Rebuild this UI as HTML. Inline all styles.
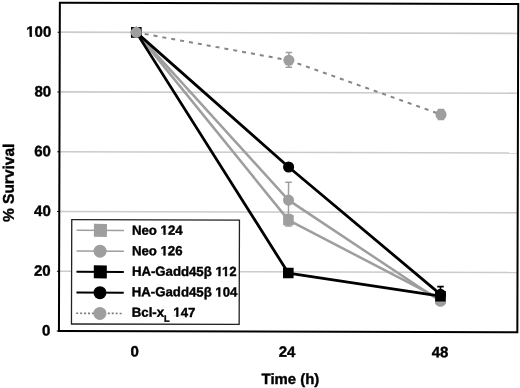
<!DOCTYPE html>
<html><head><meta charset="utf-8"><style>
html,body{margin:0;padding:0;background:#fff;}
body{width:520px;height:388px;overflow:hidden;font-family:"Liberation Sans",sans-serif;}
svg{display:block;filter:grayscale(1);}
</style></head><body>
<svg width="520" height="388" viewBox="0 0 520 388">
<g><rect x="-10" y="-10" width="540" height="408" fill="#fff"/><g transform="rotate(0.16 288 167)">
<line x1="60" y1="271.84" x2="517.8" y2="271.84" stroke="#cbcbcb" stroke-width="1.6"/>
<line x1="60" y1="212.08" x2="517.8" y2="212.08" stroke="#cbcbcb" stroke-width="1.6"/>
<line x1="60" y1="152.32" x2="517.8" y2="152.32" stroke="#cbcbcb" stroke-width="1.6"/>
<line x1="60" y1="92.56" x2="517.8" y2="92.56" stroke="#cbcbcb" stroke-width="1.6"/>
<line x1="60" y1="32.80" x2="517.8" y2="32.80" stroke="#cbcbcb" stroke-width="1.6"/>
<text x="50.9" y="336.20" text-anchor="end" font-size="15" font-family="Liberation Sans, sans-serif" font-weight="bold" stroke="#000" stroke-width="0.4">0</text>
<text x="50.9" y="276.44" text-anchor="end" font-size="15" font-family="Liberation Sans, sans-serif" font-weight="bold" stroke="#000" stroke-width="0.4">20</text>
<text x="50.9" y="216.68" text-anchor="end" font-size="15" font-family="Liberation Sans, sans-serif" font-weight="bold" stroke="#000" stroke-width="0.4">40</text>
<text x="50.9" y="156.92" text-anchor="end" font-size="15" font-family="Liberation Sans, sans-serif" font-weight="bold" stroke="#000" stroke-width="0.4">60</text>
<text x="50.9" y="97.16" text-anchor="end" font-size="15" font-family="Liberation Sans, sans-serif" font-weight="bold" stroke="#000" stroke-width="0.4">80</text>
<text x="50.9" y="37.40" text-anchor="end" font-size="15" font-family="Liberation Sans, sans-serif" font-weight="bold" stroke="#000" stroke-width="0.4">100</text>
<text x="135.30" y="356.9" text-anchor="middle" font-size="15" font-family="Liberation Sans, sans-serif" font-weight="bold" stroke="#000" stroke-width="0.4">0</text>
<text x="287.50" y="356.9" text-anchor="middle" font-size="15" font-family="Liberation Sans, sans-serif" font-weight="bold" stroke="#000" stroke-width="0.4">24</text>
<text x="440.60" y="356.9" text-anchor="middle" font-size="15" font-family="Liberation Sans, sans-serif" font-weight="bold" stroke="#000" stroke-width="0.4">48</text>
<text x="291.0" y="384.0" text-anchor="middle" font-size="14.9" font-family="Liberation Sans, sans-serif" font-weight="bold" stroke="#000" stroke-width="0.4">Time (h)</text>
<text transform="translate(13.9,183.6) rotate(-90)" x="0" y="0" text-anchor="middle" font-size="15.5" font-family="Liberation Sans, sans-serif" font-weight="bold" stroke="#000" stroke-width="0.4">% Survival</text>
<line x1="288.60" y1="182.20" x2="288.60" y2="218.06" stroke="#9e9e9e" stroke-width="1.5"/><line x1="285.35" y1="182.20" x2="291.85" y2="182.20" stroke="#9e9e9e" stroke-width="1.5"/><line x1="285.35" y1="218.06" x2="291.85" y2="218.06" stroke="#9e9e9e" stroke-width="1.5"/>
<line x1="288.60" y1="214.40" x2="288.60" y2="225.90" stroke="#9e9e9e" stroke-width="1.5"/><line x1="285.35" y1="214.40" x2="291.85" y2="214.40" stroke="#9e9e9e" stroke-width="1.5"/><line x1="285.35" y1="225.90" x2="291.85" y2="225.90" stroke="#9e9e9e" stroke-width="1.5"/>
<line x1="288.60" y1="52.52" x2="288.60" y2="67.16" stroke="#9e9e9e" stroke-width="1.5"/><line x1="285.35" y1="52.52" x2="291.85" y2="52.52" stroke="#9e9e9e" stroke-width="1.5"/><line x1="285.35" y1="67.16" x2="291.85" y2="67.16" stroke="#9e9e9e" stroke-width="1.5"/>
<line x1="440.85" y1="108.97" x2="440.85" y2="119.17" stroke="#9e9e9e" stroke-width="1.5"/><line x1="437.60" y1="108.97" x2="444.10" y2="108.97" stroke="#9e9e9e" stroke-width="1.5"/><line x1="437.60" y1="119.17" x2="444.10" y2="119.17" stroke="#9e9e9e" stroke-width="1.5"/>
<line x1="440.85" y1="286.18" x2="440.85" y2="301.72" stroke="#000" stroke-width="1.6"/><line x1="437.60" y1="286.18" x2="444.10" y2="286.18" stroke="#000" stroke-width="1.6"/><line x1="437.60" y1="301.72" x2="444.10" y2="301.72" stroke="#000" stroke-width="1.6"/>
<polyline points="135.90,32.80 288.60,220.15 440.85,298.73" fill="none" stroke="#9e9e9e" stroke-width="2.5" stroke-linejoin="round"/>
<rect x="130.60" y="27.50" width="10.6" height="10.6" rx="1" fill="#9e9e9e"/>
<rect x="283.30" y="214.85" width="10.6" height="10.6" rx="1" fill="#9e9e9e"/>
<rect x="435.55" y="293.43" width="10.6" height="10.6" rx="1" fill="#9e9e9e"/>
<polyline points="135.90,32.80 288.60,200.13 440.85,300.82" fill="none" stroke="#9e9e9e" stroke-width="2.5" stroke-linejoin="round"/>
<circle cx="135.90" cy="32.80" r="5.55" fill="#9e9e9e"/>
<circle cx="288.60" cy="200.13" r="5.55" fill="#9e9e9e"/>
<circle cx="440.85" cy="300.82" r="5.55" fill="#9e9e9e"/>
<polyline points="135.90,32.80 288.60,273.04 440.85,295.74" fill="none" stroke="#000" stroke-width="2.8" stroke-linejoin="round"/>
<rect x="130.60" y="27.50" width="10.6" height="10.6" rx="0" fill="#000"/>
<rect x="283.30" y="267.74" width="10.6" height="10.6" rx="0" fill="#000"/>
<rect x="435.55" y="290.44" width="10.6" height="10.6" rx="0" fill="#000"/>
<polyline points="135.90,32.80 288.60,166.96 440.85,293.95" fill="none" stroke="#000" stroke-width="2.8" stroke-linejoin="round"/>
<circle cx="135.90" cy="32.80" r="5.55" fill="#000"/>
<circle cx="288.60" cy="166.96" r="5.55" fill="#000"/>
<circle cx="440.85" cy="293.95" r="5.55" fill="#000"/>
<line x1="135.90" y1="32.80" x2="288.60" y2="60.29" stroke="#858585" stroke-width="2" stroke-dasharray="4 5" stroke-dashoffset="0.43"/>
<line x1="288.60" y1="60.29" x2="440.85" y2="114.07" stroke="#858585" stroke-width="2" stroke-dasharray="4 5" stroke-dashoffset="8.9"/>
<circle cx="135.90" cy="32.80" r="5.55" fill="#9e9e9e"/>
<circle cx="288.60" cy="60.29" r="5.55" fill="#9e9e9e"/>
<circle cx="440.85" cy="114.07" r="5.55" fill="#9e9e9e"/>
<rect x="59.4" y="3.35" width="458.4" height="328.25" fill="none" stroke="#000" stroke-width="2"/>
<line x1="57.2" y1="331.60" x2="59.4" y2="331.60" stroke="#000" stroke-width="1"/>
<line x1="57.2" y1="271.84" x2="59.4" y2="271.84" stroke="#000" stroke-width="1"/>
<line x1="57.2" y1="212.08" x2="59.4" y2="212.08" stroke="#000" stroke-width="1"/>
<line x1="57.2" y1="152.32" x2="59.4" y2="152.32" stroke="#000" stroke-width="1"/>
<line x1="57.2" y1="92.56" x2="59.4" y2="92.56" stroke="#000" stroke-width="1"/>
<line x1="57.2" y1="32.80" x2="59.4" y2="32.80" stroke="#000" stroke-width="1"/>
<rect x="71.9" y="220.3" width="167.70" height="104.30" fill="#fff" stroke="#222" stroke-width="1.3"/>
<line x1="76.8" y1="230.90" x2="124.1" y2="230.90" stroke="#9e9e9e" stroke-width="1.6"/>
<rect x="94.10" y="224.40" width="13" height="13" rx="0" fill="#9e9e9e"/>
<text x="132.2" y="235.20" font-size="13.2" font-family="Liberation Sans, sans-serif" font-weight="bold" stroke="#000" stroke-width="0.4">Neo 124</text>
<line x1="76.8" y1="251.65" x2="124.1" y2="251.65" stroke="#9e9e9e" stroke-width="1.6"/>
<circle cx="100.30" cy="251.65" r="6.5" fill="#9e9e9e"/>
<text x="132.2" y="255.70" font-size="13.2" font-family="Liberation Sans, sans-serif" font-weight="bold" stroke="#000" stroke-width="0.4">Neo 126</text>
<line x1="76.8" y1="272.40" x2="124.1" y2="272.40" stroke="#000" stroke-width="2.0"/>
<rect x="94.10" y="265.90" width="13" height="13" rx="0" fill="#000"/>
<text x="132.2" y="276.20" font-size="13.2" font-family="Liberation Sans, sans-serif" font-weight="bold" stroke="#000" stroke-width="0.4">HA-Gadd45β 112</text>
<line x1="76.8" y1="293.15" x2="124.1" y2="293.15" stroke="#000" stroke-width="2.0"/>
<circle cx="100.30" cy="293.15" r="6.5" fill="#000"/>
<text x="132.2" y="296.70" font-size="13.2" font-family="Liberation Sans, sans-serif" font-weight="bold" stroke="#000" stroke-width="0.4">HA-Gadd45β 104</text>
<line x1="76.6" y1="313.90" x2="124.1" y2="313.90" stroke="#7a7a7a" stroke-width="1.6" stroke-dasharray="2 1.95"/>
<circle cx="100.30" cy="313.90" r="6.5" fill="#9e9e9e"/>
<text x="132.2" y="317.20" font-size="13.2" font-family="Liberation Sans, sans-serif" font-weight="bold" stroke="#000" stroke-width="0.4">Bcl-x<tspan font-size="9.2" dy="4.8">L</tspan><tspan dy="-4.8"> 147</tspan></text>
<rect x="25.96" y="35.52" width="3.16" height="2.78" fill="#fff"/>
<rect x="31.68" y="35.52" width="2.72" height="2.78" fill="#fff"/>
<rect x="160.74" y="233.50" width="2.85" height="2.60" fill="#fff"/>
<rect x="165.90" y="233.50" width="2.43" height="2.60" fill="#fff"/>
<rect x="160.74" y="254.00" width="2.85" height="2.60" fill="#fff"/>
<rect x="165.90" y="254.00" width="2.43" height="2.60" fill="#fff"/>
<rect x="215.70" y="274.50" width="2.85" height="2.60" fill="#fff"/>
<rect x="220.86" y="274.50" width="2.43" height="2.60" fill="#fff"/>
<rect x="222.31" y="274.50" width="2.85" height="2.60" fill="#fff"/>
<rect x="227.47" y="274.50" width="2.43" height="2.60" fill="#fff"/>
<rect x="215.70" y="295.00" width="2.85" height="2.60" fill="#fff"/>
<rect x="220.86" y="295.00" width="2.43" height="2.60" fill="#fff"/>
<rect x="173.71" y="315.50" width="2.85" height="2.60" fill="#fff"/>
<rect x="178.87" y="315.50" width="2.43" height="2.60" fill="#fff"/>
</g></g>
</svg>
</body></html>
